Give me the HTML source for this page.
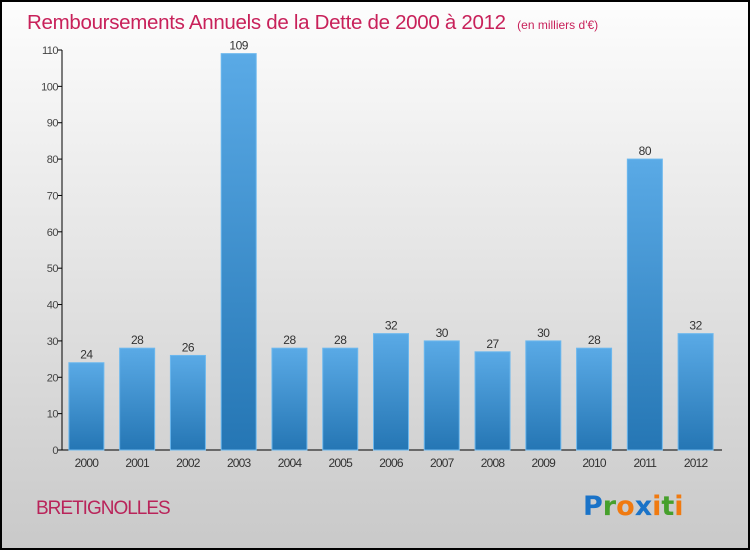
<!DOCTYPE html>
<html><head><meta charset="utf-8"><style>
body{margin:0;width:750px;height:550px;overflow:hidden;font-family:"Liberation Sans",sans-serif}
</style></head><body>
<svg id="chart" width="750" height="550" xmlns="http://www.w3.org/2000/svg">
<defs>
<linearGradient id="bg" x1="0" y1="0" x2="0" y2="1"><stop offset="0" stop-color="#fdfdfd"/><stop offset="1" stop-color="#c9c9c9"/></linearGradient>
<linearGradient id="bar" x1="0" y1="0" x2="0" y2="1"><stop offset="0" stop-color="#5aaae6"/><stop offset="1" stop-color="#2576b4"/></linearGradient>
</defs>
<rect x="1" y="1" width="748" height="548" fill="url(#bg)" stroke="#000" stroke-width="2"/>
<text x="27" y="29" font-size="20.5" fill="#c8215a" letter-spacing="-0.3">Remboursements Annuels de la Dette de 2000 à 2012 <tspan font-size="12" dx="6" letter-spacing="0">(en milliers d'€)</tspan></text>
<g id="axes"></g>
<g id="bars"></g>
<text x="36" y="514" font-size="19" fill="#b9245a" letter-spacing="-1">BRETIGNOLLES</text>
<text x="583" y="515" font-size="27" font-weight="bold" font-family="'DejaVu Sans',sans-serif"><tspan fill="#1a73c8">P</tspan><tspan fill="#46a02c">r</tspan><tspan fill="#f07a10">o</tspan><tspan fill="#1a73c8">x</tspan><tspan fill="#f07a10">i</tspan><tspan fill="#46a02c">t</tspan><tspan fill="#f07a10">i</tspan></text>
</svg>
<script>
const categories=["2000","2001","2002","2003","2004","2005","2006","2007","2008","2009","2010","2011","2012"];
const values=[24,28,26,109,28,28,32,30,27,30,28,80,32];
const yTicks=[0,10,20,30,40,50,60,70,80,90,100,110];
const NS="http://www.w3.org/2000/svg";
const x0=62,x1=722,yBase=450,yTop=50,yMax=110;
const y=v=>yBase-(v/yMax)*(yBase-yTop);
const step=(x1-x0)/categories.length;
const xc=i=>x0+step*(i+0.5)-1;
function mk(t,a,p){const e=document.createElementNS(NS,t);for(const k in a)e.setAttribute(k,a[k]);p.appendChild(e);return e;}
const ax=document.getElementById('axes'),bg=document.getElementById('bars');
let yl=mk('line',{x1:x0,y1:yTop,x2:x0,y2:yBase,stroke:'#000'},ax);


let xl=mk('line',{x1:x0,y1:yBase,x2:x1,y2:yBase,stroke:'#000'},ax);


yTicks.forEach(t=>{
 mk('line',{x1:x0-4,y1:y(t),x2:x0,y2:y(t),stroke:'#000'},ax);
 const tx=mk('text',{x:x0-4,y:y(t)+4,'font-size':11,fill:'#444','text-anchor':'end','letter-spacing':'-0.5'},ax);
 tx.textContent=t;
 
 
});
categories.forEach((c,i)=>{
 const cx=xc(i),w=35;
 const r=mk('rect',{x:cx-w/2,y:y(values[i]),width:w,height:yBase-y(values[i]),fill:'url(#bar)',stroke:'#6cb8ee','stroke-width':1},bg);
 
 
 const v=mk('text',{x:cx,y:y(values[i])-4,'font-size':12,fill:'#333','text-anchor':'middle','letter-spacing':'-0.5'},bg);
 v.textContent=values[i];
 
 
 const l=mk('text',{x:cx,y:yBase+17,'font-size':12,fill:'#333','text-anchor':'middle','letter-spacing':'-0.8'},ax);
 l.textContent=c;
 
 
});
</script>
</body></html>
